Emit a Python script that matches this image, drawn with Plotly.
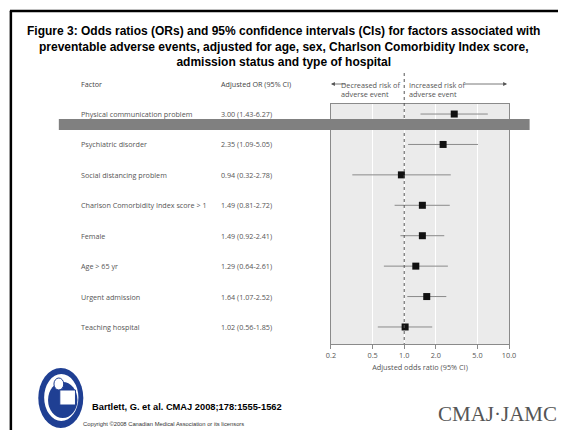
import plotly.graph_objects as go

factors = ["Physical communication problem", "Psychiatric disorder", "Social distancing problem",
           "Charlson Comorbidity Index score > 1", "Female", "Age > 65 yr",
           "Urgent admission", "Teaching hospital"]
or_vals = [3.00, 2.35, 0.94, 1.49, 1.49, 1.29, 1.64, 1.02]
ci_low = [1.43, 1.09, 0.32, 0.81, 0.92, 0.64, 1.07, 0.56]
ci_high = [6.27, 5.05, 2.78, 2.72, 2.41, 2.61, 2.52, 1.85]
tick_vals = [0.2, 0.5, 1.0, 2.0, 5.0, 10.0]
tick_text = ["0.2", "0.5", "1.0", "2.0", "5.0", "10.0"]

W, H = 565, 430
def px(x): return x / W
def py(y): return (H - y) / H

rows = list(range(len(factors)))
fig = go.Figure()
fig.add_trace(go.Scatter(
    x=or_vals, y=rows, mode="markers",
    marker=dict(symbol="square", size=7, color="#111111"),
    error_x=dict(type="data", symmetric=False,
                 array=[h - o for h, o in zip(ci_high, or_vals)],
                 arrayminus=[o - l for o, l in zip(or_vals, ci_low)],
                 color="#8a8a8a", thickness=1, width=0),
    showlegend=False, hoverinfo="skip"))

txtfont = dict(family="Open Sans", size=7.2, color="#555555")
ann = []
for i, (f, o, l, h) in enumerate(zip(factors, or_vals, ci_low, ci_high)):
    ann.append(dict(x=px(76), y=i, xref="paper", yref="y", text=f, showarrow=False,
                    xanchor="left", yanchor="middle", font=txtfont))
    ann.append(dict(x=px(219), y=i, xref="paper", yref="y",
                    text=f"{o:.2f} ({l:.2f}-{h:.2f})", showarrow=False,
                    xanchor="left", yanchor="middle", font=txtfont))

ann += [
    dict(x=px(76), y=py(84), xref="paper", yref="paper", text="Factor", showarrow=False,
         xanchor="left", yanchor="middle", font=dict(family="Open Sans", size=7.2, color="#444444")),
    dict(x=px(219), y=py(84), xref="paper", yref="paper", text="Adjusted OR (95% CI)", showarrow=False,
         xanchor="left", yanchor="middle", font=dict(family="Open Sans", size=7.2, color="#444444")),
    dict(x=px(406), y=py(89), xref="paper", yref="paper",
         text="Decreased risk of<br>adverse event", showarrow=False, align="left",
         xanchor="right", yanchor="middle", font=dict(family="Open Sans", size=7.3, color="#555555")),
    dict(x=px(411), y=py(89), xref="paper", yref="paper",
         text="Increased risk of<br>adverse event", showarrow=False, align="left",
         xanchor="left", yanchor="middle", font=dict(family="Open Sans", size=7.3, color="#555555")),
    dict(x=px(333), y=py(84), xref="paper", yref="paper", text="", showarrow=True,
         ax=16, ay=0, axref="pixel", ayref="pixel",
         arrowhead=2, arrowsize=1, arrowwidth=0.8, arrowcolor="#555555"),
    dict(x=px(513), y=py(84), xref="paper", yref="paper", text="", showarrow=True,
         ax=-44, ay=0, axref="pixel", ayref="pixel",
         arrowhead=2, arrowsize=1, arrowwidth=0.8, arrowcolor="#555555"),
    dict(x=px(285), y=py(46), xref="paper", yref="paper",
         text="<b>Figure 3: Odds ratios (ORs) and 95% confidence intervals (CIs) for factors associated with<br>"
              "preventable adverse events, adjusted for age, sex, Charlson Comorbidity Index score,<br>"
              "admission status and type of hospital</b>",
         showarrow=False, xanchor="center", yanchor="middle", align="center",
         font=dict(family="Liberation Sans", size=12.0, color="#000000")),
    dict(x=px(87), y=py(407), xref="paper", yref="paper",
         text="<b>Bartlett, G. et al. CMAJ 2008;178:1555-1562</b>", showarrow=False,
         xanchor="left", yanchor="middle", font=dict(family="Liberation Sans", size=9.3, color="#000000")),
    dict(x=px(78), y=py(424), xref="paper", yref="paper",
         text="Copyright ©2008 Canadian Medical Association or its licensors", showarrow=False,
         xanchor="left", yanchor="middle", font=dict(family="Liberation Sans", size=5.8, color="#333333")),
    dict(x=px(566), y=py(414), xref="paper", yref="paper",
         text="CMAJ·JAMC", showarrow=False,
         xanchor="right", yanchor="middle", font=dict(family="Liberation Serif", size=21, color="#555555")),
]

shapes = [
    dict(type="line", x0=1, x1=1, xref="x", y0=py(73), y1=py(344), yref="paper",
         line=dict(color="#555555", width=1, dash="dot"), layer="above"),
    dict(type="rect", xref="paper", yref="paper", x0=px(55), x1=px(536), y0=py(130), y1=py(119),
         fillcolor="#808080", line=dict(width=0), layer="above"),
    dict(type="line", xref="paper", yref="paper", x0=px(6), x1=px(6), y0=py(11), y1=0,
         line=dict(color="#000000", width=2.5)),
    dict(type="line", xref="paper", yref="paper", x0=px(5), x1=1, y0=py(11), y1=py(11),
         line=dict(color="#000000", width=2.5)),
    dict(type="circle", xref="paper", yref="paper", x0=px(34), x1=px(80), y0=py(428), y1=py(368),
         fillcolor="#1f3f93", line=dict(width=0)),
    dict(type="circle", xref="paper", yref="paper", x0=px(40), x1=px(75), y0=py(421), y1=py(374),
         fillcolor="#ffffff", line=dict(width=0)),
    dict(type="circle", xref="paper", yref="paper", x0=px(44), x1=px(74), y0=py(418), y1=py(382),
         fillcolor="#1f3f93", line=dict(width=0)),
    dict(type="circle", xref="paper", yref="paper", x0=px(50), x1=px(60), y0=py(390), y1=py(378),
         fillcolor="#ffffff", line=dict(color="#1f3f93", width=1)),
    dict(type="rect", xref="paper", yref="paper", x0=px(56), x1=px(72), y0=py(405), y1=py(390),
         fillcolor="#ffffff", line=dict(color="#1f3f93", width=1)),
]

fig.update_layout(
    width=W, height=H, margin=dict(l=0, r=0, t=0, b=0),
    paper_bgcolor="#ffffff", plot_bgcolor="#ebebeb",
    annotations=ann, shapes=shapes,
    xaxis=dict(type="log", domain=[px(333), px(515)],
               range=[-0.69897, 1.0], tickvals=tick_vals, ticktext=tick_text,
               showgrid=True, gridcolor="#ffffff", gridwidth=1,
               showline=True, linecolor="#8a8a8a", linewidth=1, mirror=True,
               ticks="outside", ticklen=4, tickcolor="#8a8a8a",
               tickfont=dict(family="Open Sans", size=7.3, color="#555555"),
               title=dict(text="Adjusted odds ratio (95% CI)", standoff=6,
                          font=dict(family="Open Sans", size=7.3, color="#555555")),
               zeroline=False, fixedrange=True),
    yaxis=dict(domain=[py(344), py(104)], range=[7.56, -0.33],
               showticklabels=False, showgrid=False, zeroline=False,
               showline=True, linecolor="#8a8a8a", linewidth=1, mirror=True, ticks="",
               fixedrange=True),
)

fig.write_html("out.html", config={"displayModeBar": False},
               post_script="document.body.style.margin='0';document.body.style.padding='0';"
                           "document.body.style.overflow='hidden';")
